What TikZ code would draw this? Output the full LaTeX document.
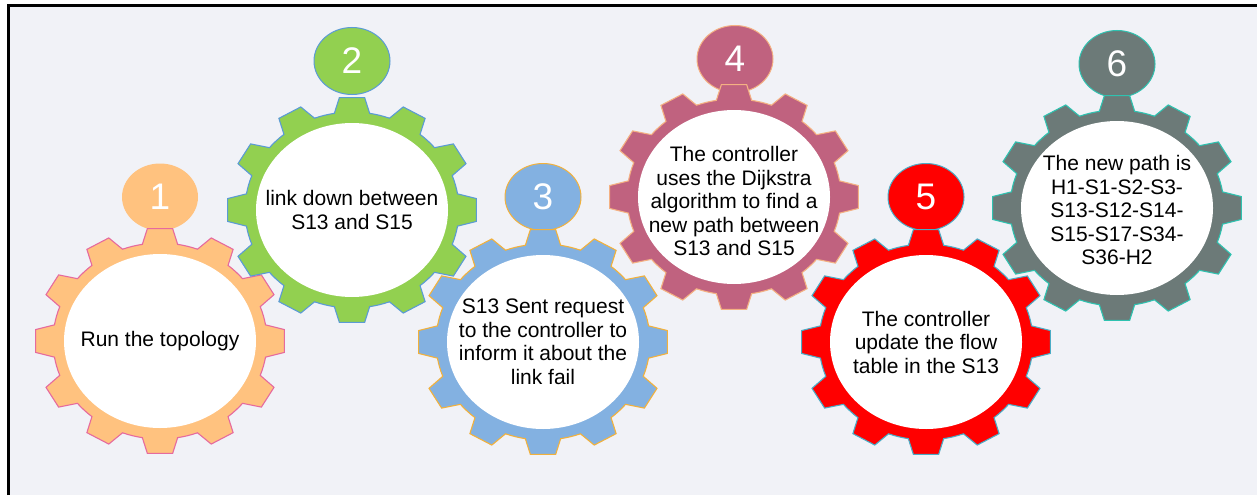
\documentclass[tikz,border=0pt]{standalone}
\usepackage{fontspec}
\setmainfont{Liberation Sans}
\usetikzlibrary{shapes.geometric}

\definecolor{panelbg}{HTML}{F1F2F7}
\definecolor{orangefill}{HTML}{FFC27F}
\definecolor{orangeline}{HTML}{E66A9E}
\definecolor{greenfill}{HTML}{92D050}
\definecolor{greenline}{HTML}{5B9BD5}
\definecolor{bluefill}{HTML}{83B1E1}
\definecolor{blueline}{HTML}{F2B13C}
\definecolor{mauvefill}{HTML}{C0627F}
\definecolor{mauveline}{HTML}{F4B183}
\definecolor{redfill}{HTML}{FF0000}
\definecolor{redline}{HTML}{4BACC6}
\definecolor{grayfill}{HTML}{6C7A78}
\definecolor{grayline}{HTML}{2FC2B0}

\tikzset{
  gearbody/.style={line width=1.1pt, line join=miter},
  numdisc/.style={ellipse, minimum width=76pt, minimum height=67pt, inner sep=0pt,
    line width=1pt, text=white, font=\fontsize{37}{40}\selectfont},
  face/.style={ellipse, fill=white, minimum width=192pt, minimum height=174pt, inner sep=0pt},
  caption/.style={align=center, text=black, inner sep=0pt,
    font=\fontsize{21}{23.5}\selectfont},
}

% 12-tooth gear outline around a named centre
\newcommand\drawgear[3]{%
  \begin{scope}[shift={(#1)}]
    \draw[gearbody, fill=#2, draw=#3] (-9.5:107pt and 98pt)
      \foreach \a in {0,30,...,330}{
        -- (\a-9.5:107pt and 98pt) -- (\a-5.8:125pt and 113pt)
        -- (\a+5.8:125pt and 113pt) -- (\a+9.5:107pt and 98pt)
        arc[start angle=\a+9.5, end angle=\a+20.5, x radius=107pt, y radius=98pt]
      } -- cycle;
  \end{scope}}

\begin{document}
\begin{tikzpicture}[x=1pt, y=-1pt]
  \useasboundingbox (0,0) rectangle (1257,495);
  \fill[white] (0,0) rectangle (1257,495);
  \fill[panelbg] (8,5) rectangle (1257,495);
  \draw[line width=2.6pt] (8.7,495) -- (8.7,5.5) -- (1257,5.5);

  % gear centres
  \coordinate (c1) at (160,341);
  \coordinate (c2) at (352,210);
  \coordinate (c3) at (543,342);
  \coordinate (c4) at (734,197);
  \coordinate (c5) at (926,342);
  \coordinate (c6) at (1117,208);

  % step 1
  \node[numdisc, fill=orangefill] (n1) at (160,197) {1};
  \drawgear{c1}{orangefill}{orangeline}
  \node[face] (f1) at (c1) {};
  \node[caption] (t1) at (f1) {Run the topology};

  % step 2
  \node[numdisc, fill=greenfill, draw=greenline] (n2) at (352,61) {2};
  \drawgear{c2}{greenfill}{greenline}
  \node[face] (f2) at (c2) {};
  \node[caption] (t2) at (f2) {link down between\\S13 and S15};

  % step 3
  \node[numdisc, fill=bluefill, draw=blueline] (n3) at (543,197) {3};
  \drawgear{c3}{bluefill}{blueline}
  \node[face] (f3) at (c3) {};
  \node[caption] (t3) at (f3) {S13 Sent request\\to the controller to\\inform it about the\\link fail};

  % step 4
  \node[numdisc, fill=mauvefill, draw=mauveline] (n4) at (735,59) {4};
  \drawgear{c4}{mauvefill}{mauveline}
  \node[face] (f4) at (c4) {};
  \node[caption, yshift=-4pt] (t4) at (f4) {The controller\\uses the Dijkstra\\algorithm to find a\\new path between\\S13 and S15};

  % step 5
  \node[numdisc, fill=redfill, draw=redline] (n5) at (926,197) {5};
  \drawgear{c5}{redfill}{redline}
  \node[face] (f5) at (c5) {};
  \node[caption] (t5) at (f5) {The controller\\update the flow\\table in the S13};

  % step 6
  \node[numdisc, fill=grayfill, draw=grayline] (n6) at (1117,64) {6};
  \drawgear{c6}{grayfill}{grayline}
  \node[face] (f6) at (c6) {};
  \node[caption, yshift=-2pt] (t6) at (f6) {The new path is\\H1-S1-S2-S3-\\S13-S12-S14-\\S15-S17-S34-\\S36-H2};
\end{tikzpicture}
\end{document}
